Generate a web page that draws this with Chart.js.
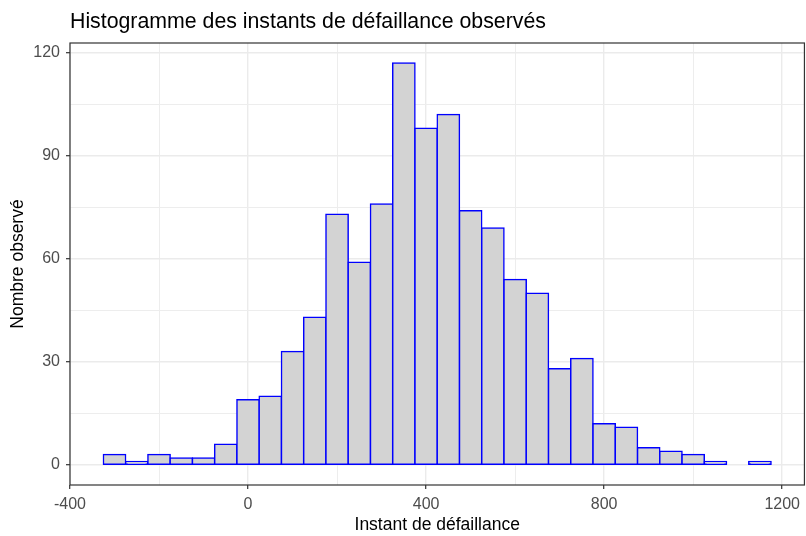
<!DOCTYPE html>
<html>
<head>
<meta charset="utf-8">
<script src="https://cdn.jsdelivr.net/npm/chart.js@4"></script>
<style>
  html, body { margin: 0; padding: 0; background: #ffffff; }
</style>
</head>
<body>
<canvas id="chart" width="806" height="536"></canvas>
<script>
// histogram bins (centre of each 50-wide bin) and observed counts
const binCenters = [-300, -250, -200, -150, -100, -50, 0, 50, 100, 150,
                    200, 250, 300, 350, 400, 450, 500, 550, 600, 650,
                    700, 750, 800, 850, 900, 950, 1000, 1050, 1100, 1150];
const counts = [3, 1, 3, 2, 2, 6, 19, 20, 33, 43,
                73, 59, 76, 117, 98, 102, 74, 69, 54, 50,
                28, 31, 12, 11, 5, 4, 3, 1, 0, 1];

const xTicks = [-400, -200, 0, 200, 400, 600, 800, 1000, 1200];
const xMajor = [-400, 0, 400, 800, 1200];
const yTicks = [0, 15, 30, 45, 60, 75, 90, 105, 120];
const yMajor = [0, 30, 60, 90, 120];

const chartTitle = "Histogramme des instants de défaillance observés";
const xTitle = "Instant de défaillance";
const yTitle = "Nombre observé";

const fontFamily = "'Liberation Sans', Arial, sans-serif";
const gridMajor = "#EBEBEB";
const gridMinor = "#EDEDED";
const frameColor = "#333333";

const chartCanvas = document.getElementById("chart");

// title left-aligned with the panel, plus the panel frame (theme_bw look)
const panelPlugin = {
    id: "panel",
    afterDraw(chart) {
        const ctx = chart.ctx;
        const area = chart.chartArea;
        ctx.save();
        ctx.strokeStyle = frameColor;
        ctx.lineWidth = 1.2;
        ctx.strokeRect(area.left, area.top, area.right - area.left, area.bottom - area.top);
        ctx.fillStyle = "#000000";
        ctx.font = "21.3px " + fontFamily;
        ctx.textBaseline = "alphabetic";
        ctx.textAlign = "left";
        ctx.fillText(chartTitle, area.left, 28);
        ctx.restore();
    }
};

function isMajor(list, ctx) {
    return ctx.tick && list.includes(ctx.tick.value);
}

const chartInstance = new Chart(chartCanvas, {
    type: "bar",
    data: {
        datasets: [{
            data: binCenters.map((c, i) => ({ x: c, y: counts[i] })),
            backgroundColor: "#D3D3D3",
            borderColor: "#0000FF",
            borderWidth: 1.5,
            borderSkipped: false,
            inflateAmount: 0.75,
            barPercentage: 1,
            categoryPercentage: 1
        }]
    },
    options: {
        responsive: false,
        animation: false,
        layout: { padding: { top: 43, right: 1, bottom: 0, left: 0 } },
        plugins: {
            legend: { display: false },
            tooltip: { enabled: false },
            title: { display: false }
        },
        scales: {
            x: {
                type: "linear",
                offset: false,
                min: -400,
                max: 1250,
                afterBuildTicks: scale => { scale.ticks = xTicks.map(v => ({ value: v })); },
                afterFit: scale => { scale.height = 51; },
                border: { display: false },
                grid: {
                    offset: false,
                    color: ctx => isMajor(xMajor, ctx) ? gridMajor : gridMinor,
                    lineWidth: ctx => isMajor(xMajor, ctx) ? 1.4 : 1,
                    tickColor: ctx => isMajor(xMajor, ctx) ? frameColor : "rgba(0,0,0,0)",
                    tickLength: 4,
                    tickWidth: 1.2
                },
                ticks: {
                    autoSkip: false,
                    maxRotation: 0,
                    padding: 6,
                    color: "#4D4D4D",
                    font: { family: fontFamily, size: 16 },
                    callback: value => xMajor.includes(value) ? String(value) : ""
                },
                title: {
                    display: true,
                    text: xTitle,
                    color: "#000000",
                    font: { family: fontFamily, size: 17.5 },
                    padding: { top: 2, bottom: 0 }
                }
            },
            y: {
                type: "linear",
                min: -5.85,
                max: 122.85,
                afterBuildTicks: scale => { scale.ticks = yTicks.map(v => ({ value: v })); },
                afterFit: scale => { scale.width = 70; },
                border: { display: false },
                grid: {
                    color: ctx => isMajor(yMajor, ctx) ? gridMajor : gridMinor,
                    lineWidth: ctx => isMajor(yMajor, ctx) ? 1.4 : 1,
                    tickColor: ctx => isMajor(yMajor, ctx) ? frameColor : "rgba(0,0,0,0)",
                    tickLength: 4,
                    tickWidth: 1.2
                },
                ticks: {
                    autoSkip: false,
                    padding: 6,
                    color: "#4D4D4D",
                    font: { family: fontFamily, size: 16 },
                    callback: value => yMajor.includes(value) ? String(value) : ""
                },
                title: {
                    display: true,
                    text: yTitle,
                    color: "#000000",
                    font: { family: fontFamily, size: 17.5 },
                    padding: { top: 8, bottom: 0 }
                }
            }
        }
    },
    plugins: [panelPlugin]
});
</script>
</body>
</html>
